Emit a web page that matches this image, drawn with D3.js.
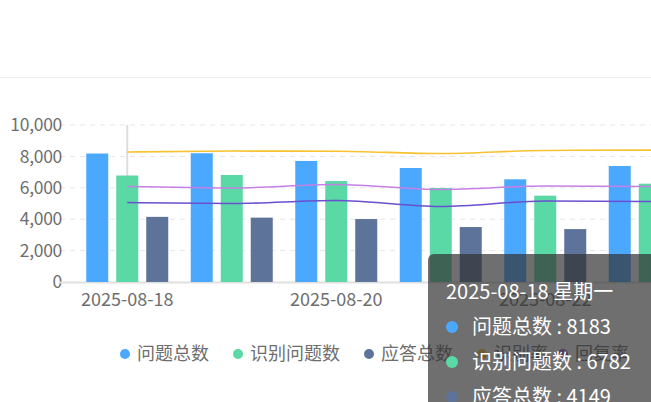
<!DOCTYPE html><html><head><meta charset="utf-8">
<script src="https://cdn.jsdelivr.net/npm/d3@7"></script>
<style>body{margin:0;background:#fff;font-family:"Noto Sans CJK SC","Noto Sans",sans-serif}</style></head><body>
<svg id="c" width="651" height="402"></svg>
<script>
const categories=["2025-08-18","2025-08-19","2025-08-20","2025-08-21","2025-08-22","2025-08-23","2025-08-24"];
const tickLabels=["2025-08-18","2025-08-20","2025-08-22","2025-08-24"];
const totalQ=[8183,8200,7710,7260,6540,7390,7200];
const recogQ=[6782,6815,6430,5990,5500,6260,6100];
const answers=[4149,4100,4010,3500,3370,3900,3800];
const rateRecog=[8280,8340,8330,8180,8380,8400,8400];
const rateReply=[6080,5990,6210,5890,6110,6080,6080];
const rateThird=[5060,5000,5190,4810,5160,5130,5130];
const yTicks=[0,2000,4000,6000,8000,10000];
const svg=d3.select("#c");
svg.append("line").attr("x1",0).attr("x2",651).attr("y1",77.5).attr("y2",77.5).attr("stroke","#eee");
const x=d3.scaleBand().domain(categories).range([75,75+104.5*categories.length]);
const y=d3.scaleLinear().domain([0,10000]).range([282,125]);
const g=svg.append("g");
yTicks.forEach(t=>{
 if(t>0)g.append("line").attr("x1",60).attr("x2",651).attr("y1",y(t)).attr("y2",y(t)).attr("stroke","#e6e6e6").attr("stroke-dasharray","5,5");
 g.append("text").attr("x",62).attr("y",y(t)).attr("dy","0.35em").attr("text-anchor","end").attr("fill","#6e6e6e").attr("font-size",17.5).attr("letter-spacing",-0.3).text(d3.format(",")(t));
});
g.append("line").attr("x1",60).attr("x2",651).attr("y1",282.5).attr("y2",282.5).attr("stroke","#e0e0e0").attr("stroke-width",2);
g.append("line").attr("x1",x(categories[0])+x.bandwidth()/2).attr("x2",x(categories[0])+x.bandwidth()/2).attr("y1",125).attr("y2",282).attr("stroke","#ddd").attr("stroke-width",2);
const bars=[[totalQ,"#4aa8ff",-41],[recogQ,"#5ad8a6",-11],[answers,"#5d7399",19]];
bars.forEach(([d,c,o])=>{
 g.selectAll(null).data(d).enter().append("rect")
  .attr("x",(v,i)=>x(categories[i])+x.bandwidth()/2+o).attr("width",22)
  .attr("y",v=>y(v)).attr("height",v=>282-y(v)).attr("fill",c);
});
const lines=[[rateRecog,"#f7c231"],[rateReply,"#c580e6"],[rateThird,"#6a4fd0"]];
lines.forEach(([d,c])=>{
 g.append("path").datum(d).attr("fill","none").attr("stroke",c).attr("stroke-width",1.6)
  .attr("d",d3.line().x((v,i)=>x(categories[i])+x.bandwidth()/2).y(v=>y(v)).curve(d3.curveMonotoneX));
});
tickLabels.forEach(t=>{
 g.append("text").attr("x",x(t)+x.bandwidth()/2).attr("y",300).attr("dy","0.35em").attr("text-anchor","middle").attr("fill","#6e6e6e").attr("font-size",18).text(t);
});
const legend=[["问题总数","#4aa8ff",125],["识别问题数","#5ad8a6",238],["应答总数","#5d7399",369],["识别率","#f7c231",482],["回复率","#9a60b4",563]];
legend.forEach(([t,c,lx])=>{
 svg.append("circle").attr("cx",lx).attr("cy",354).attr("r",5).attr("fill",c);
 svg.append("text").attr("x",lx+12).attr("y",354).attr("dy","0.35em").attr("fill","#6e6e6e").attr("font-size",18).text(t);
});
const tt=svg.append("g");
tt.append("rect").attr("x",428).attr("y",254).attr("width",240).attr("height",170).attr("rx",6).attr("fill","rgba(50,50,50,0.7)");
tt.append("text").attr("x",446).attr("y",292).attr("dy","0.35em").attr("fill","#fff").attr("font-size",20).text("2025-08-18 星期一");
[["问题总数",totalQ[0],"#4aa8ff"],["识别问题数",recogQ[0],"#5ad8a6"],["应答总数",answers[0],"#5d7399"]].forEach(([n,v,c],i)=>{
 const yy=327+i*35;
 tt.append("circle").attr("cx",452).attr("cy",yy).attr("r",6).attr("fill",c);
 tt.append("text").attr("x",472).attr("y",yy).attr("dy","0.35em").attr("fill","#fff").attr("font-size",20).text(n+" : "+v);
});
</script></body></html>
